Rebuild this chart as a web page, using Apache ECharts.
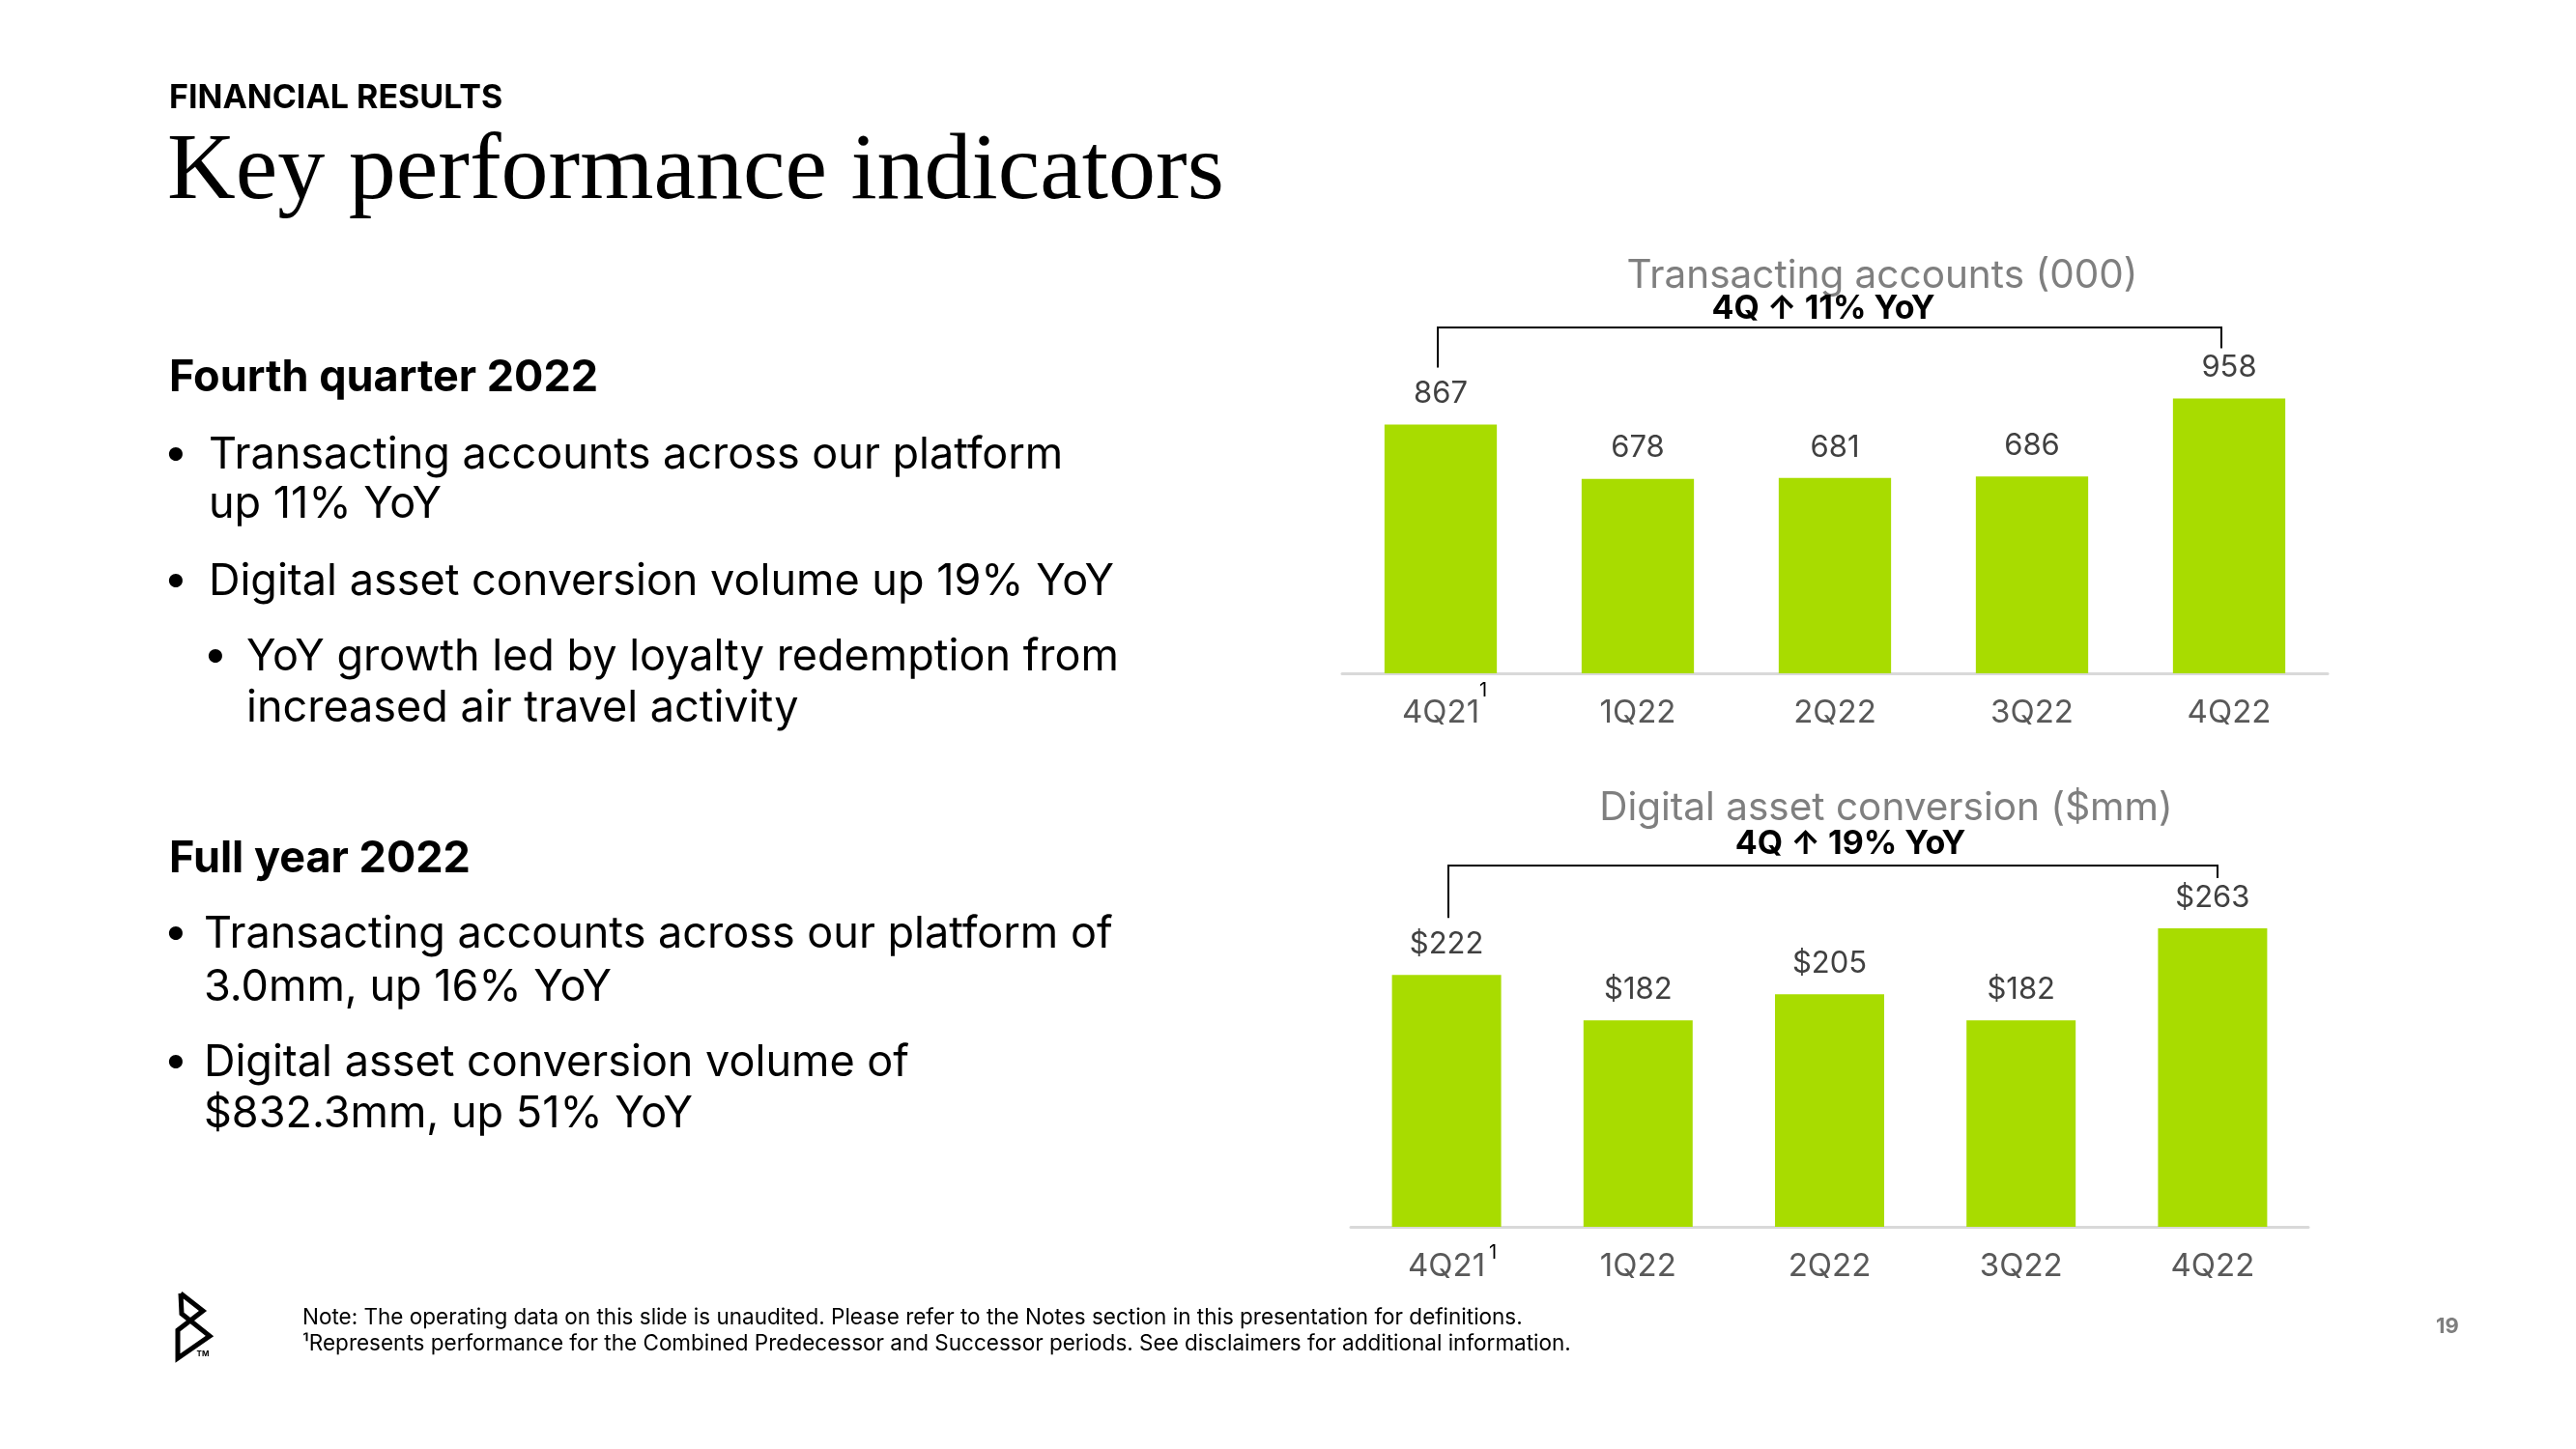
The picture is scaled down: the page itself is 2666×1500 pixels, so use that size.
<!DOCTYPE html>
<html>
<head>
<meta charset="utf-8">
<script src="https://cdn.jsdelivr.net/npm/echarts@6/dist/echarts.min.js"></script>
<style>
html,body{margin:0;padding:0;background:#fff;}
#main{width:2666px;height:1500px;}
</style>
</head>
<body>
<div id="main"></div>
<script>
const categories = ['4Q21', '1Q22', '2Q22', '3Q22', '4Q22'];
const accounts = [867, 678, 681, 686, 958];
const conversion = [222, 182, 205, 182, 263];
const chart1Title = 'Transacting accounts (000)';
const chart1Sub = '4Q \u2191 11% YoY';
const chart2Title = 'Digital asset conversion ($mm)';
const chart2Sub = '4Q \u2191 19% YoY';

const GREEN = '#a8dc00';
const FONT = 'Inter, "Noto Sans", sans-serif';

const chart = echarts.init(document.getElementById('main'), null, {renderer: 'canvas'});

function txt(id, text, x, y, size, weight, color, family, align) {
  return {
    type: 'text', id: id, x: x, y: y,
    style: {
      text: text, fontSize: size, fontWeight: weight || 'normal',
      fontFamily: family || FONT, fill: color || '#000',
      align: align || 'left', verticalAlign: 'middle'
    }
  };
}

const B = 45;
const textEls = [
  txt('h0', 'FINANCIAL RESULTS', 175, 102, 34, 'bold', '#000'),
  txt('h1', 'Key performance indicators', 173, 179, 98, 'normal', '#000', '"Liberation Serif", serif'),
  txt('q0', 'Fourth quarter 2022', 175, 391, B, 'bold', '#000'),
  txt('q1b', '\u2022', 182, 469, B, 'normal', '#000', FONT, 'center'),
  txt('q1', 'Transacting accounts across our platform', 216, 471, B, 'normal', '#000'),
  txt('q2', 'up 11% YoY', 216, 522, B, 'normal', '#000'),
  txt('q3b', '\u2022', 182, 600, B, 'normal', '#000', FONT, 'center'),
  txt('q3', 'Digital asset conversion volume up 19% YoY', 216, 602, B, 'normal', '#000'),
  txt('q4b', '\u2022', 223, 678, B, 'normal', '#000', FONT, 'center'),
  txt('q4', 'YoY growth led by loyalty redemption from', 255, 680, B, 'normal', '#000'),
  txt('q5', 'increased air travel activity', 255, 733, B, 'normal', '#000'),
  txt('f0', 'Full year 2022', 175, 889, B, 'bold', '#000'),
  txt('f1b', '\u2022', 182, 965, B, 'normal', '#000', FONT, 'center'),
  txt('f1', 'Transacting accounts across our platform of', 211, 967, B, 'normal', '#000'),
  txt('f2', '3.0mm, up 16% YoY', 211, 1022, B, 'normal', '#000'),
  txt('f3b', '\u2022', 182, 1098, B, 'normal', '#000', FONT, 'center'),
  txt('f3', 'Digital asset conversion volume of', 211, 1100, B, 'normal', '#000'),
  txt('f4', '$832.3mm, up 51% YoY', 211, 1153, B, 'normal', '#000'),
  txt('n1', 'Note: The operating data on this slide is unaudited. Please refer to the Notes section in this presentation for definitions.', 313, 1364, 22.5, 'normal', '#000'),
  txt('n2', '\u00b9Represents performance for the Combined Predecessor and Successor periods. See disclaimers for additional information.', 313, 1391, 22.5, 'normal', '#000'),
  txt('pg', '19', 2533, 1373, 22, 'bold', '#7f7f7f', FONT, 'center'),
  txt('t1', chart1Title, 1948, 286, 40.5, 'normal', '#7f7f7f', FONT, 'center'),
  txt('s1', chart1Sub, 1887, 320, 34, 'bold', '#000', FONT, 'center'),
  txt('t2', chart2Title, 1952, 837, 40.5, 'normal', '#7f7f7f', FONT, 'center'),
  txt('s2', chart2Sub, 1915, 874, 34, 'bold', '#000', FONT, 'center'),
  {
    type: 'polyline', id: 'logo',
    shape: {points: [[187, 1339], [210, 1357], [184, 1377], [184, 1406], [217, 1383], [188, 1360], [187, 1339]]},
    style: {stroke: '#000', lineWidth: 5, fill: null, lineJoin: 'miter', miterLimit: 10}
  },
  txt('tm', 'TM', 210, 1402, 8, 'bold', '#000', FONT, 'center')
];

function axisLabelCfg() {
  return {
    fontSize: 33, color: '#595959', fontFamily: FONT, margin: 25, interval: 0
  };
}

const option = {
  backgroundColor: '#ffffff',
  animation: false,
  grid: [
    {left: 1389, width: 1020, top: 400, height: 297},
    {left: 1398, width: 991, top: 941, height: 329}
  ],
  xAxis: [
    {type: 'category', gridIndex: 0, data: categories,
     axisLine: {lineStyle: {color: '#d9d9d9', width: 3}}, axisTick: {show: false},
     axisLabel: axisLabelCfg()},
    {type: 'category', gridIndex: 1, data: categories,
     axisLine: {lineStyle: {color: '#d9d9d9', width: 3}}, axisTick: {show: false},
     axisLabel: axisLabelCfg()}
  ],
  yAxis: [
    {type: 'value', gridIndex: 0, min: 0, max: 1000, show: false, splitLine: {show: false}},
    {type: 'value', gridIndex: 1, min: 0, max: 280, show: false, splitLine: {show: false}}
  ],
  series: [
    {type: 'bar', xAxisIndex: 0, yAxisIndex: 0, data: accounts, barWidth: '57%',
     itemStyle: {color: GREEN},
     label: {show: true, position: 'top', distance: 16, fontSize: 31, color: '#404040', fontFamily: FONT}},
    {type: 'bar', xAxisIndex: 1, yAxisIndex: 1, data: conversion, barWidth: '57%',
     itemStyle: {color: GREEN},
     label: {show: true, position: 'top', distance: 16, fontSize: 31, color: '#404040', fontFamily: FONT,
             formatter: p => '$' + p.value}}
  ],
  graphic: textEls
};

chart.setOption(option);

function bracket(id, gridIndex, data, lineY, offL, offR) {
  const n = data.length - 1;
  const p0 = chart.convertToPixel({gridIndex: gridIndex}, [0, data[0]]);
  const p1 = chart.convertToPixel({gridIndex: gridIndex}, [n, data[n]]);
  const xl = Math.round(p0[0]) + offL, xr = Math.round(p1[0]) + offR;
  return {
    type: 'polyline', id: id,
    shape: {points: [[xl, p0[1] - 59], [xl, lineY], [xr, lineY], [xr, p1[1] - 52]]},
    style: {stroke: '#000', lineWidth: 2, fill: null}
  };
}

function sup(id, gridIndex, dx, dy) {
  const p = chart.convertToPixel({gridIndex: gridIndex}, [0, 0]);
  return txt(id, '1', p[0] + dx, p[1] + dy, 20, 'normal', '#000', FONT, 'center');
}

chart.setOption({
  graphic: [
    bracket('br1', 0, accounts, 339, -3, -8),
    bracket('br2', 1, conversion, 896, 2, 5),
    sup('sup1', 0, 44, 18),
    sup('sup2', 1, 48, 27)
  ]
});
</script>
</body>
</html>
